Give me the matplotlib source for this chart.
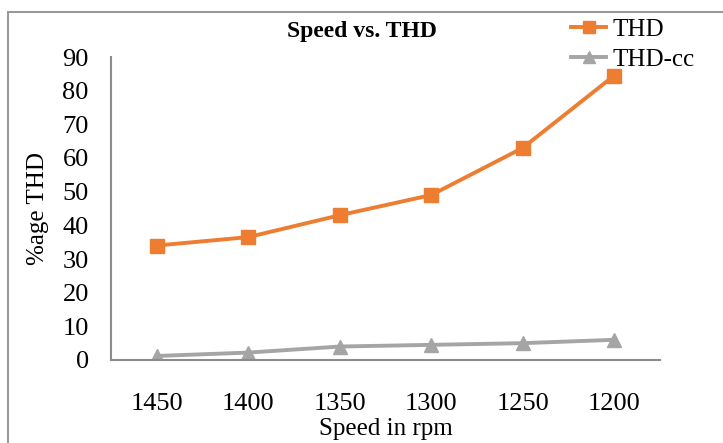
import matplotlib
matplotlib.use("Agg")
import matplotlib.pyplot as plt
from matplotlib.patches import Rectangle

categories = ["1450", "1400", "1350", "1300", "1250", "1200"]
thd = [34.0, 36.5, 43.0, 49.0, 63.0, 84.5]
thd_cc = [1.2, 2.2, 4.0, 4.5, 5.0, 6.0]
yticks = [0, 10, 20, 30, 40, 50, 60, 70, 80, 90]

plt.rcParams['font.family'] = ['Liberation Serif', 'DejaVu Serif']

fig = plt.figure(figsize=(7.23, 4.43), dpi=100)
# outer chart frame
fig.patches.append(Rectangle((8/723, -0.1), 1.2, (443-12)/443 + 0.1, transform=fig.transFigure,
                             fill=False, edgecolor='#999999', linewidth=1.5))

ax = fig.add_axes([111/723, (443-360)/443, (660-111)/723, (360-57)/443])
x = list(range(len(categories)))
ax.plot(x, thd, color='#ED7D31', linewidth=2.8, marker='s', markersize=10, label='THD')
ax.plot(x, thd_cc, color='#A5A5A5', linewidth=2.8, marker='^', markersize=10, label='THD-cc')

ax.set_xlim(-0.5, len(categories) - 0.5)
ax.set_ylim(0, 90)
ax.set_xticks(x)
ax.set_xticklabels(categories)
ax.set_yticks(yticks)
ax.tick_params(axis='both', length=0, labelsize=19, colors='black')
ax.tick_params(axis='x', pad=24)
ax.tick_params(axis='y', pad=16)
for s in ['top', 'right']:
    ax.spines[s].set_visible(False)
for s in ['left', 'bottom']:
    ax.spines[s].set_color('#8C8C8C')
    ax.spines[s].set_linewidth(1.5)

ax.set_xlabel('Speed in rpm', fontsize=18, labelpad=2)
ax.set_ylabel('%age THD', fontsize=18, labelpad=10)
fig.text(362/723, 1 - 31/443, 'Speed vs. THD', ha='center', va='center', fontsize=17, fontweight='bold')

leg = ax.legend(loc='upper left', bbox_to_anchor=(571/723, 1 - 18/443), bbox_transform=fig.transFigure,
                frameon=False, fontsize=18, handlelength=1.4, handletextpad=0.25, labelspacing=0.3,
                borderaxespad=0, borderpad=0, markerscale=0.85)

fig.savefig('out.png', dpi=100)
